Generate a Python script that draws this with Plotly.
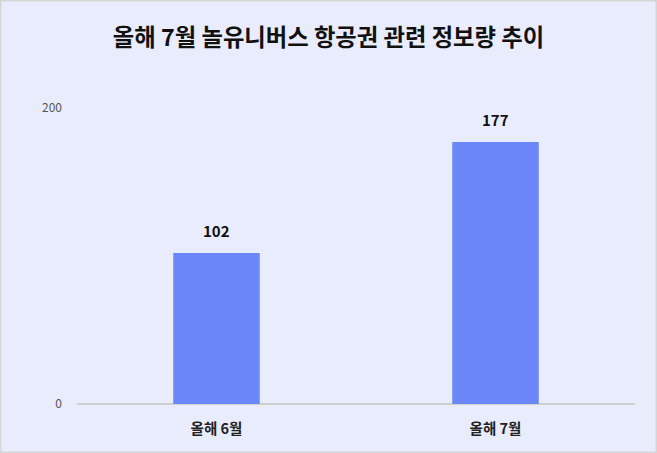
import plotly.graph_objects as go

categories = ['올해 6월', '올해 7월']
values = [102, 177]
y_ticks = [0, 200]

W, H = 657, 453
L, R, T, B = 77, 22, 80, 49
font_kr = 'Noto Sans CJK KR'

fig = go.Figure()
fig.add_trace(go.Bar(
    x=categories,
    y=values,
    width=0.31,
    marker=dict(color='#6B86F6', line=dict(width=0)),
    hoverinfo='skip'
))

# value labels above bars
for c, v in zip(categories, values):
    fig.add_annotation(
        x=c, y=v, text='<b>%d</b>' % v, showarrow=False,
        yanchor='bottom', yshift=10,
        font=dict(family=font_kr, size=15, color='#111111')
    )

# border around the whole picture
pw = W - L - R
ph = H - T - B
fig.add_shape(
    type='rect', xref='paper', yref='paper',
    x0=-L / pw + 0.75 / pw, x1=1 + R / pw - 0.75 / pw,
    y0=-B / ph + 0.75 / ph, y1=1 + T / ph - 0.75 / ph,
    line=dict(color='#D6D6D6', width=1.5)
)

fig.update_layout(
    width=W, height=H,
    margin=dict(l=L, r=R, t=T, b=B),
    paper_bgcolor='#E9ECFC',
    plot_bgcolor='#E9ECFC',
    showlegend=False,
    title=dict(
        text='<b>올해 7월 놀유니버스 항공권 관련 정보량 추이</b>',
        x=0.5, xref='container', xanchor='center',
        y=1 - 38 / H, yanchor='middle',
        font=dict(family=font_kr, size=23.3, color='#111111')
    ),
    font=dict(family=font_kr)
)

fig.update_xaxes(
    showgrid=False, showline=False, zeroline=False,
    tickfont=dict(family=font_kr, size=14.5, color='#222222'),
    ticklabelstandoff=14,
    tickvals=categories,
    ticktext=['<b>%s</b>' % c for c in categories]
)
fig.update_yaxes(
    range=[0, 200 * (H - B - T) / 296],
    tickvals=y_ticks,
    showgrid=False, zeroline=True, zerolinecolor='#D0D0D0', zerolinewidth=1.5,
    showline=False,
    tickfont=dict(family=font_kr, size=12, color='#555555'),
    ticklabelstandoff=14
)

fig.write_html('out.html', config={'displayModeBar': False},
               post_script="document.body.style.margin='0';")
